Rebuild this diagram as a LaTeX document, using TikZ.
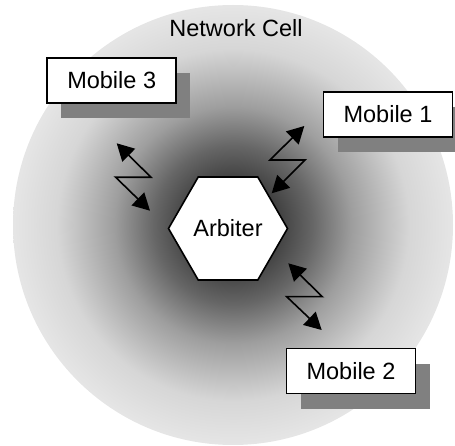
\documentclass[tikz,border=0pt]{standalone}
\usepackage{fontspec}
\setmainfont{Liberation Sans}
\usetikzlibrary{shapes.geometric,shadows,arrows.meta}
\pgfdeclareradialshading{cellglow}{\pgfpoint{0bp}{0bp}}{color(0bp)=(black!95); color(9bp)=(black!60); color(13.5bp)=(black!38); color(20bp)=(black!16); color(25bp)=(black!10); color(50bp)=(black!10)}
\begin{document}
\begin{tikzpicture}[x=1pt, y=-1pt, font=\fontsize{23.5}{28}\selectfont, line join=miter,
		mobile/.style={draw, fill=white, line width=1.6pt, minimum width=129pt, minimum height=45pt, inner sep=0pt,
			drop shadow={shadow xshift=14pt, shadow yshift=-15pt, fill=black!50, opacity=1}},
		arbiter/.style={draw, fill=white, line width=1.6pt, regular polygon, regular polygon sides=6, minimum size=119pt, inner sep=0pt},
		zap/.style={{Triangle[length=17pt,width=18pt]}-{Triangle[length=17pt,width=18pt]}, line width=1.6pt}]
			\useasboundingbox (0,0) rectangle (455,446);
			\shade[shading=cellglow] (233,225) circle[radius=220pt];
			\node[anchor=base] (cell) at (236,36.7) {Network Cell};
			\node[arbiter] (arb) at (228,228.5) {Arbiter};
			\foreach \i/\x/\y in {1/388/114.5, 2/351/371, 3/111.7/80.5}
				\node[mobile] (mob\i) at (\x,\y) {Mobile \i};
			\coordinate (z1a) at (304.3,126);	\coordinate (z1b) at (271.7,193.3);
			\coordinate (z2a) at (288.3,263.3);	\coordinate (z2b) at (321.7,330);
			\coordinate (z3a) at (116.7,143.3);	\coordinate (z3b) at (150,210.7);
			\draw[zap] (z1a) -- ++(-34.3,34) -- ++(35,0) -- (z1b);
			\draw[zap] (z2a) -- ++(34,33.4) -- ++(-35.6,0) -- (z2b);
			\draw[zap] (z3a) -- ++(34.3,34) -- ++(-35.3,0) -- (z3b);
		\end{tikzpicture}
\end{document}
